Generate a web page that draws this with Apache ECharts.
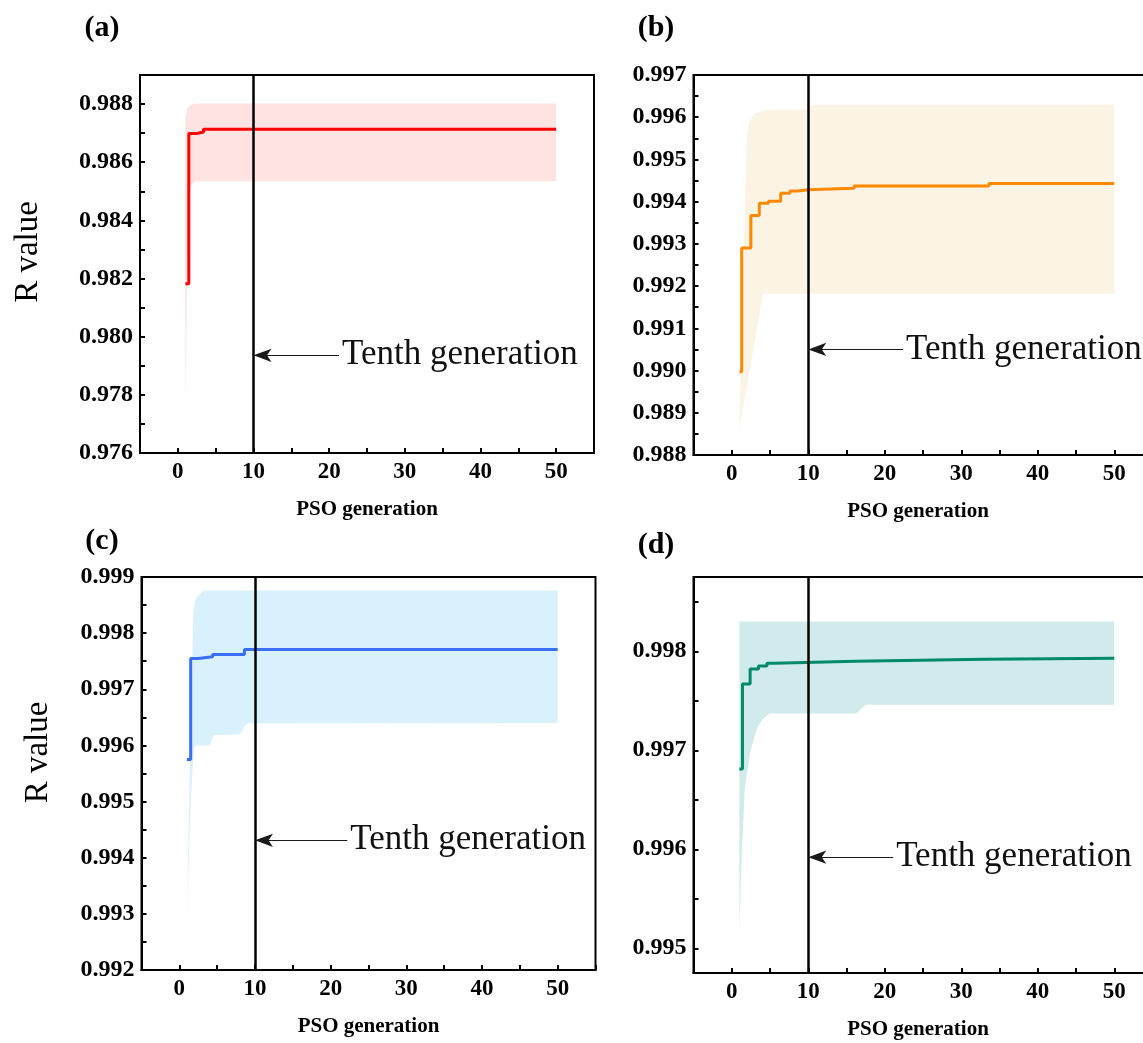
<!DOCTYPE html>
<html>
<head>
<meta charset="utf-8">
<title>PSO convergence of R value</title>
<script src="https://cdn.jsdelivr.net/npm/echarts@6/dist/echarts.min.js"></script>
<style>
  html, body { margin: 0; padding: 0; background: #ffffff; }
  #chart { width: 1143px; height: 1043px; }
</style>
</head>
<body>
<div id="chart"></div>
<script>
// ---------------------------------------------------------------
// Data: best R value reached by the swarm, listed at each change
// point as [generation, R]; the curve holds its value until the next
// change point.  Bands are the spread over repeated runs, given as
// [generation, lower R, upper R].
// ---------------------------------------------------------------
const lineA = [[1.0, 0.98182], [1.45, 0.98699], [2.5, 0.98704], [3.4, 0.98713], [50, 0.98713]];
const bandA = [[1.0, 0.97750, 0.98750], [1.2, 0.98150, 0.98780], [1.4, 0.98400, 0.98790],
               [1.7, 0.98515, 0.98797], [2.2, 0.98535, 0.98802], [50, 0.98535, 0.98802]];

const lineB = [[1.0, 0.98997], [1.3, 0.99290], [2.5, 0.99367], [3.6, 0.99396], [4.8, 0.99401],
               [6.4, 0.99420], [7.6, 0.99425], [8.6, 0.99428], [10, 0.99432], [16, 0.99437],
               [33.6, 0.99443], [50, 0.99443]];
const bandB = [[1.0, 0.98865, 0.98870], [1.96, 0.98963, 0.99554], [2.3, 0.98998, 0.99590],
               [3.0, 0.99070, 0.99608], [4.1, 0.99182, 0.99615], [4.5, 0.99182, 0.99617],
               [9.8, 0.99182, 0.99618], [10.8, 0.99182, 0.99630], [50, 0.99182, 0.99630]];

const lineC = [[1.0, 0.99575], [1.5, 0.99755], [2.5, 0.99758], [4.4, 0.99762], [8.6, 0.99771], [50, 0.99772]];
const bandC = [[1.0, 0.99295, 0.99300], [1.5, 0.99500, 0.99624], [1.85, 0.99580, 0.99840],
               [2.0, 0.99598, 0.99852], [2.2, 0.99600, 0.99862], [3.2, 0.99600, 0.99876],
               [4.05, 0.99600, 0.99876], [4.5, 0.99618, 0.99876], [8.0, 0.99620, 0.99876],
               [8.9, 0.99639, 0.99876], [50, 0.99640, 0.99876]];

const lineD = [[1.0, 0.99681], [1.4, 0.99767], [2.4, 0.99782], [3.5, 0.99785], [4.6, 0.99788],
               [5.5, 0.99790], [16.2, 0.99792], [33, 0.99793], [50, 0.99793]];
const bandD = [[1.0, 0.99517, 0.99830], [1.3, 0.99594, 0.99830], [1.7, 0.99661, 0.99830],
               [2.4, 0.99698, 0.99830], [3.3, 0.99722, 0.99830], [4.1, 0.99732, 0.99830],
               [5.0, 0.99737, 0.99830], [16.3, 0.99737, 0.99830], [17.5, 0.99746, 0.99830],
               [50, 0.99746, 0.99830]];

// Axis ranges
const xRange = [-5, 55];
const xLabelStep = 10;
const yRanges = [[0.976, 0.989], [0.988, 0.997], [0.992, 0.999], [0.99475, 0.99875]];
const yLabelStep = [0.002, 0.001, 0.001, 0.001];

// Marked generation and the R level where its callout arrow sits
const markedGeneration = 10;
const calloutText = 'Tenth generation';
const calloutR = [0.97936, 0.99050, 0.99431, 0.99592];
const calloutEnd = [21.3, 22.4, 22.2, 21.1];

const panelTitles = ['(a)', '(b)', '(c)', '(d)'];
const xName = 'PSO generation';
const yName = 'R value';

// ---------------------------------------------------------------
const serif = "'Liberation Serif', 'Times New Roman', serif";
const lines = [lineA, lineB, lineC, lineD];
const bands = [bandA, bandB, bandC, bandD];
const lineColors = ['#ff0000', '#ff8a00', '#3a6ff5', '#008a66'];
const bandColors = ['#ffe2e2', '#fbf3e3', '#d8f1fc', '#d1ebec'];

// Right-hand panels run a little past the page edge
const grids = [
  { left: 140,   top: 75,  width: 454, height: 378 },
  { left: 693.5, top: 75,  width: 459, height: 380 },
  { left: 141.5, top: 577, width: 454, height: 393 },
  { left: 693.5, top: 577, width: 459, height: 396 }
];

function isMultiple(v, step) {
  const k = v / step;
  return Math.abs(k - Math.round(k)) < 1e-6;
}

const xAxes = grids.map((g, i) => ({
  gridIndex: i,
  type: 'value',
  min: xRange[0],
  max: xRange[1],
  interval: 5,
  axisLine: { show: true, onZero: false, lineStyle: { color: '#000', width: 2 } },
  axisTick: { show: true, inside: true, length: 5, lineStyle: { color: '#000', width: 2 } },
  axisLabel: {
    formatter: v => (v >= 0 && v <= 50 && isMultiple(v, xLabelStep)) ? String(v) : '',
    fontFamily: serif, fontWeight: 'bold', fontSize: 23, color: '#000', margin: 8
  },
  splitLine: { show: false },
  name: xName,
  nameLocation: 'middle',
  nameGap: 46,
  nameTextStyle: {
    fontFamily: serif, fontWeight: 'bold', fontSize: 21, color: '#000',
    padding: (i % 2 === 1) ? [0, 10, 0, 0] : [0, 0, 0, 0]
  }
}));

const yAxes = grids.map((g, i) => {
  const ax = {
    gridIndex: i,
    type: 'value',
    min: yRanges[i][0],
    max: yRanges[i][1],
    axisLine: { show: true, onZero: false, lineStyle: { color: '#000', width: 2 } },
    axisTick: { show: true, inside: true, length: 5, lineStyle: { color: '#000', width: 2 } },
    axisLabel: {
      formatter: v => isMultiple(v, yLabelStep[i]) ? v.toFixed(3) : '',
      fontFamily: serif, fontWeight: 'bold', fontSize: 24, color: '#000', margin: 7,
      showMinLabel: true, showMaxLabel: true
    },
    splitLine: { show: false }
  };
  if (i === 3) {
    ax.splitNumber = 8;           // nice step 0.0005 inside the fixed range
  } else {
    ax.interval = i === 0 ? 0.001 : 0.0005;
  }
  if (i % 2 === 0) {
    ax.name = yName;
    ax.nameLocation = 'middle';
    ax.nameRotate = 90;
    ax.nameGap = i === 0 ? 95 : 87;
    ax.nameTextStyle = {
      fontFamily: serif, fontSize: 33, color: '#000',
      padding: i === 0 ? [0, 0, 0, 24] : [0, 0, 0, 42]
    };
  }
  return ax;
});

const series = [];
bands.forEach((band, i) => {
  series.push({
    type: 'custom',
    xAxisIndex: i, yAxisIndex: i,
    silent: true,
    z: 1,
    data: band,
    encode: { x: 0, y: [1, 2] },
    renderItem: function (params, api) {
      if (params.dataIndex !== 0) return null;
      const upper = band.map(r => api.coord([r[0], r[2]]));
      const lower = band.slice().reverse().map(r => api.coord([r[0], r[1]]));
      return {
        type: 'polygon',
        shape: { points: upper.concat(lower) },
        style: { fill: bandColors[i] }
      };
    }
  });
});

lines.forEach((ln, i) => {
  series.push({
    type: 'line',
    xAxisIndex: i, yAxisIndex: i,
    data: ln,
    step: 'end',
    showSymbol: false,
    silent: true,
    z: 3,
    lineStyle: { color: lineColors[i], width: 3 },
    markLine: {
      silent: true,
      animation: false,
      symbol: 'none',
      data: [
        { xAxis: markedGeneration, lineStyle: { color: '#000', width: 2.5, type: 'solid' }, label: { show: false } },
        [
          { coord: [markedGeneration, calloutR[i]], symbol: 'arrow', symbolSize: [10, 18],
            lineStyle: { color: '#1a1a1a', width: 1, type: 'solid' } },
          { coord: [calloutEnd[i], calloutR[i]], symbol: 'none',
            label: { show: true, position: 'end', distance: 3, formatter: calloutText,
                     fontFamily: serif, fontSize: 35, color: '#111' } }
        ]
      ]
    }
  });
});

const titlePos = [[102, 28], [656, 28], [102, 541], [656, 545]];
const graphics = panelTitles.map((t, i) => ({
  type: 'text',
  x: titlePos[i][0], y: titlePos[i][1],
  style: { text: t, fontFamily: serif, fontWeight: 'bold', fontSize: 30, fill: '#000',
           align: 'center', verticalAlign: 'middle' }
}));

const chart = echarts.init(document.getElementById('chart'), null, { renderer: 'canvas' });
chart.setOption({
  animation: false,
  backgroundColor: '#ffffff',
  grid: grids.map(g => Object.assign({
    show: true, borderColor: '#000', borderWidth: 2, backgroundColor: 'transparent',
    containLabel: false, outerBoundsMode: 'none'
  }, g)),
  xAxis: xAxes,
  yAxis: yAxes,
  series: series,
  graphic: graphics
});
</script>
</body>
</html>
